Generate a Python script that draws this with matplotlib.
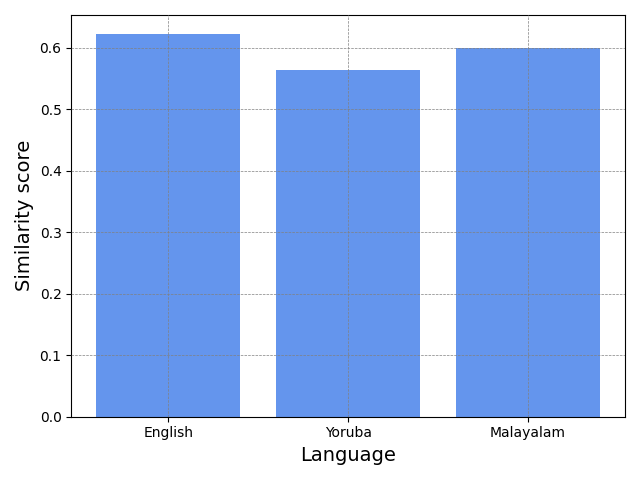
import matplotlib
matplotlib.use("Agg")
import matplotlib.pyplot as plt

languages = ["English", "Yoruba", "Malayalam"]
scores = [0.6225, 0.5642, 0.6000]

fig, ax = plt.subplots(figsize=(6.4, 4.8), dpi=100)
ax.bar(languages, scores, color="cornflowerblue")
ax.set_axisbelow(False)
ax.grid(True, linestyle="--", linewidth=0.5, color="gray")
ax.set_xlabel("Language", fontsize=14)
ax.set_ylabel("Similarity score", fontsize=14)

plt.tight_layout()
plt.savefig("out.png")
